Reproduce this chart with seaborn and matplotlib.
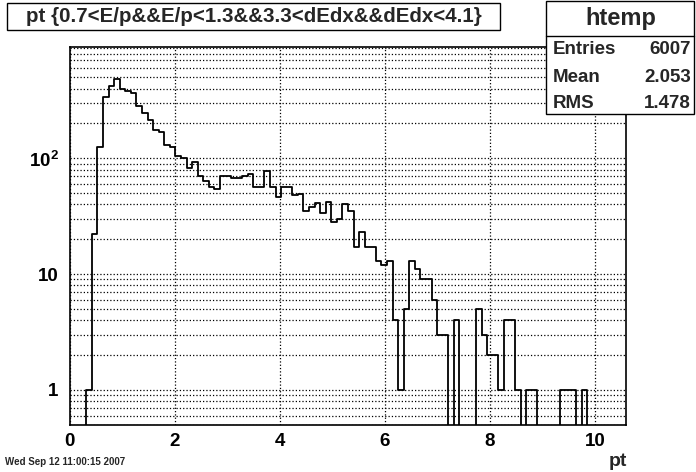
import numpy as np
import pandas as pd
import seaborn as sns
import matplotlib
matplotlib.use("Agg")
import matplotlib.pyplot as plt
from matplotlib.patches import Rectangle
from matplotlib.ticker import FixedLocator, MultipleLocator, LogLocator, NullFormatter

# histogram "htemp": 100 bins of pt in [0, 10.6], counts
n_bins = 100
x_min, x_max = 0.0, 10.6
counts = [0, 0, 0, 1, 22, 124, 335, 419, 479, 400,
          382, 363, 282, 246, 216, 177, 170, 130, 124, 104,
          101, 82, 92, 70, 64, 57, 54, 71, 70, 67,
          67, 71, 73, 57, 57, 77, 56, 46, 57, 56,
          48, 49, 35, 38, 41, 34, 42, 28, 30, 40,
          35, 17, 23, 17, 17, 13, 12, 13, 4, 1,
          5, 13, 11, 9, 9, 6, 3, 3, 0, 4,
          0, 0, 0, 5, 3, 2, 2, 1, 4, 4,
          1, 0, 1, 1, 0, 0, 0, 0, 1, 1,
          1, 0, 1, 0, 0, 0, 0, 0, 0, 0]

title = "pt {0.7<E/p&&E/p<1.3&&3.3<dEdx&&dEdx<4.1}"
stat_name = "htemp"
stat_labels = ["Entries", "Mean", "RMS"]
stat_values = ["6007", "2.053", "1.478"]
date_str = "Wed Sep 12 11:00:15 2007"
x_ticks = [0, 2, 4, 6, 8, 10]
y_ticks = [1, 10, 100]
y_ticklabels = ["1", "10", r"$10^{2}$"]

sns.set_style("white")
plt.rcParams["font.family"] = ["Liberation Sans", "DejaVu Sans"]
plt.rcParams["font.weight"] = "bold"
plt.rcParams["mathtext.fontset"] = "custom"
plt.rcParams["mathtext.rm"] = "Liberation Sans:bold"
plt.rcParams["mathtext.bf"] = "Liberation Sans:bold"

W, H = 696, 472
fig = plt.figure(figsize=(W / 100, H / 100), dpi=100)
ax = fig.add_axes([0.1, 0.1, 0.8, 0.8])


def fx(px):
    return px / W


def fy(py):
    return 1 - py / H


width = (x_max - x_min) / n_bins
df = pd.DataFrame({"pt": x_min + width * (np.arange(n_bins) + 0.5), "n": counts})
sns.histplot(data=df, x="pt", weights="n", bins=n_bins, binrange=(x_min, x_max),
             element="step", fill=False, color="black", linewidth=1.3, ax=ax)

ax.set_yscale("log")
ax.set_xlim(x_min, x_max)
ax.set_ylim(0.5, 910)

ax.xaxis.set_major_locator(FixedLocator(x_ticks))
ax.xaxis.set_minor_locator(MultipleLocator(0.5))
ax.yaxis.set_major_locator(FixedLocator(y_ticks))
ax.yaxis.set_minor_locator(LogLocator(base=10, subs=np.arange(2, 10)))
ax.yaxis.set_minor_formatter(NullFormatter())
ax.set_xticklabels([str(t) for t in x_ticks])
ax.set_yticklabels(y_ticklabels)

ax.tick_params(axis="both", which="both", direction="in", colors="black",
               labelsize=13.5, width=1)
ax.tick_params(axis="x", which="major", length=8, pad=6)
ax.tick_params(axis="x", which="minor", length=4)
ax.tick_params(axis="y", which="major", length=11.5, pad=8)
ax.tick_params(axis="y", which="minor", length=5.8)

ax.grid(True, axis="x", which="major", linestyle=":", color="black", linewidth=0.9)
ax.grid(True, axis="y", which="both", linestyle=":", color="black", linewidth=0.9)
ax.set_axisbelow(True)
for s in ax.spines.values():
    s.set_color("black")
    s.set_linewidth(1.2)
ax.set_xlabel("")
ax.set_ylabel("")

# title box
fig.add_artist(Rectangle((fx(7), fy(29.5)), fx(500) - fx(7), fy(3) - fy(29.5),
                         transform=fig.transFigure, facecolor="white",
                         edgecolor="black", linewidth=1, zorder=5))
fig.text(fx(253.5), fy(16.5), title, ha="center", va="center", fontsize=14.8,
         fontweight="bold", zorder=6)

# stats box
fig.add_artist(Rectangle((fx(546), fy(114)), fx(694) - fx(546), fy(1) - fy(114),
                         transform=fig.transFigure, facecolor="white",
                         edgecolor="black", linewidth=1, zorder=5))
fig.add_artist(plt.Line2D([fx(546), fx(694)], [fy(36), fy(36)],
                          transform=fig.transFigure, color="black",
                          linewidth=1, zorder=6))
fig.text(fx(621), fy(18.5), stat_name, ha="center", va="center", fontsize=17,
         fontweight="bold", zorder=6)
for i, (lab, val) in enumerate(zip(stat_labels, stat_values)):
    yy = 50 + i * 27
    fig.text(fx(553), fy(yy), lab, ha="left", va="center", fontsize=13.5,
             fontweight="bold", zorder=6)
    fig.text(fx(691), fy(yy), val, ha="right", va="center", fontsize=13.5,
             fontweight="bold", zorder=6)

fig.text(fx(5), fy(462), date_str, ha="left", va="center", fontsize=7,
         fontweight="bold")
fig.text(fx(627), fy(461), "pt", ha="right", va="center", fontsize=14,
         fontweight="bold")

fig.savefig("out.png", dpi=100, facecolor="white")
